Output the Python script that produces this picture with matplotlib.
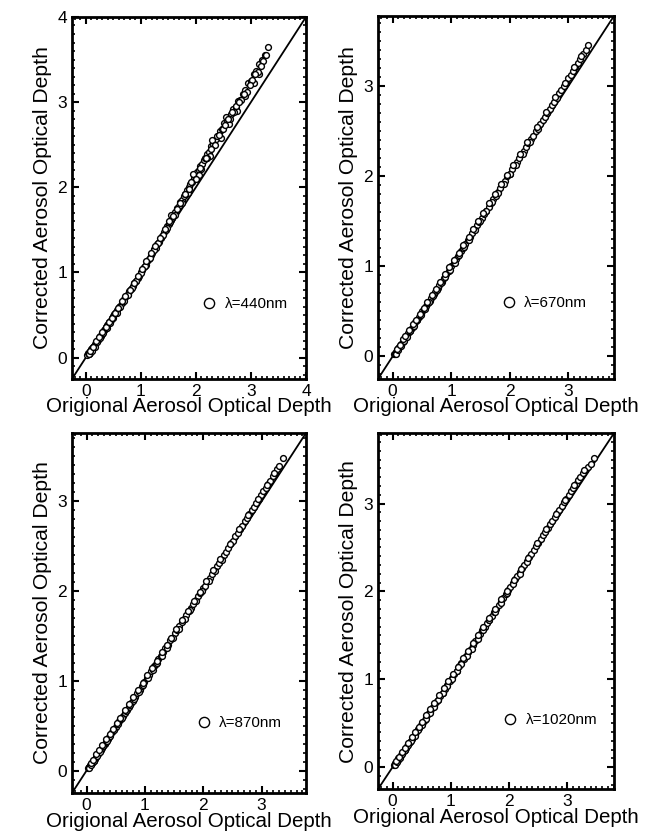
import matplotlib
matplotlib.use("Agg")
import matplotlib.pyplot as plt
from matplotlib.ticker import MultipleLocator

plt.rcParams['font.family'] = ['Liberation Sans', 'DejaVu Sans']

# 440 nm
x440 = [0.03, 0.04, 0.05, 0.06, 0.07, 0.08, 0.09, 0.10, 0.12, 0.13, 0.15, 0.17, 0.18, 0.20, 0.22,
        0.24, 0.25, 0.27, 0.29, 0.31, 0.33, 0.35, 0.37, 0.39, 0.41, 0.43, 0.45, 0.48, 0.50, 0.52,
        0.55, 0.57, 0.60, 0.62, 0.65, 0.68, 0.70, 0.73, 0.76, 0.79, 0.82, 0.85, 0.88, 0.91, 0.94,
        0.97, 1.00, 1.03, 1.06, 1.09, 1.12, 1.15, 1.18, 1.21, 1.24, 1.27, 1.30, 1.33, 1.36, 1.39,
        1.42, 1.45, 1.48, 1.51, 1.54, 1.57, 1.60, 1.63, 1.66, 1.69, 1.72, 1.75, 1.78, 1.81, 1.84,
        1.87, 1.90, 1.93, 1.96, 1.99, 2.02, 2.05, 2.08, 2.11, 2.14, 2.17, 2.20, 2.24, 2.28, 2.32,
        2.36, 2.40, 2.44, 2.48, 2.52, 2.56, 2.60, 2.64, 2.68, 2.72, 2.76, 2.80, 2.85, 2.90, 2.95,
        3.00, 3.05, 3.10, 3.15, 3.20, 3.25, 3.31,
        1.62, 1.85, 2.05, 2.25, 2.45, 2.60, 2.75, 2.90, 3.05, 3.15, 1.55, 1.95, 2.30, 2.55,
        0.06, 0.11, 0.16, 0.21, 0.26, 0.32, 0.38, 0.44, 0.50, 0.56, 0.63, 0.70, 0.77, 0.84, 0.92,
        1.00, 1.08, 1.16, 1.24, 1.32, 1.40, 1.47, 1.53, 1.59,
        2.00, 2.10, 2.20, 2.35, 2.50, 2.62, 2.70, 2.82, 2.92, 3.02, 3.12, 3.22, 3.28, 1.75, 1.88,
        2.38, 2.66, 2.98,
        0.08, 0.14, 0.19, 0.24, 0.30, 0.36, 0.42, 0.47, 0.53, 0.58, 0.66, 0.72, 0.80, 0.87, 0.95,
        1.02, 1.10, 1.19, 1.26, 1.35, 1.44, 1.52, 1.65, 1.72, 1.80, 1.92, 2.07, 2.18, 2.27, 2.42,
        2.53, 2.58, 2.73, 2.78, 2.88, 3.08, 3.18]
y440 = [0.03, 0.05, 0.04, 0.06, 0.06, 0.08, 0.08, 0.10, 0.11, 0.13, 0.14, 0.16, 0.18, 0.19, 0.21,
        0.23, 0.25, 0.26, 0.28, 0.30, 0.32, 0.34, 0.36, 0.38, 0.40, 0.42, 0.44, 0.47, 0.49, 0.51,
        0.54, 0.56, 0.59, 0.61, 0.64, 0.67, 0.69, 0.72, 0.75, 0.78, 0.81, 0.84, 0.88, 0.90, 0.94,
        0.96, 1.00, 1.03, 1.07, 1.09, 1.14, 1.16, 1.20, 1.23, 1.27, 1.29, 1.34, 1.36, 1.41, 1.43,
        1.48, 1.50, 1.55, 1.57, 1.62, 1.64, 1.69, 1.71, 1.76, 1.78, 1.83, 1.85, 1.90, 1.92, 1.97,
        2.00, 2.04, 2.06, 2.11, 2.13, 2.18, 2.20, 2.25, 2.27, 2.32, 2.34, 2.39, 2.42, 2.48, 2.51,
        2.57, 2.60, 2.66, 2.68, 2.75, 2.77, 2.83, 2.86, 2.92, 2.94, 3.01, 3.03, 3.10, 3.14, 3.22,
        3.25, 3.33, 3.37, 3.45, 3.49, 3.55, 3.65,
        1.67, 1.93, 2.15, 2.37, 2.58, 2.74, 2.90, 3.07, 3.22, 3.33, 1.67, 2.16, 2.55, 2.82,
        0.04, 0.08, 0.13, 0.18, 0.23, 0.29, 0.35, 0.41, 0.47, 0.53, 0.60, 0.67, 0.74, 0.82, 0.90,
        0.99, 1.08, 1.17, 1.26, 1.35, 1.44, 1.52, 1.59, 1.66,
        2.10, 2.22, 2.35, 2.50, 2.68, 2.80, 2.88, 3.02, 3.12, 3.26, 3.35, 3.48, 3.55, 1.82, 1.98,
        2.60, 2.89, 3.20,
        0.08, 0.13, 0.19, 0.24, 0.30, 0.36, 0.42, 0.47, 0.53, 0.58, 0.66, 0.72, 0.80, 0.88, 0.96,
        1.04, 1.13, 1.23, 1.31, 1.41, 1.51, 1.60, 1.75, 1.82, 1.92, 2.06, 2.23, 2.35, 2.45, 2.62,
        2.73, 2.80, 2.96, 3.00, 3.10, 3.33, 3.43]

# 670 nm
x670 = [0.03, 0.04, 0.05, 0.06, 0.07, 0.08, 0.10, 0.11, 0.13, 0.15, 0.17, 0.19, 0.21, 0.23, 0.25,
        0.27, 0.29, 0.32, 0.34, 0.37, 0.39, 0.42, 0.45, 0.48, 0.51, 0.54, 0.57, 0.60, 0.63, 0.66,
        0.70, 0.73, 0.77, 0.80, 0.84, 0.88, 0.92, 0.96, 1.00, 1.04, 1.08, 1.12, 1.16, 1.20, 1.24,
        1.28, 1.32, 1.36, 1.40, 1.44, 1.48, 1.52, 1.56, 1.60, 1.64, 1.68, 1.72, 1.76, 1.80, 1.84,
        1.88, 1.92, 1.96, 2.00, 2.04, 2.08, 2.12, 2.16, 2.20, 2.24, 2.28, 2.32, 2.36, 2.40, 2.44,
        2.48, 2.52, 2.56, 2.60, 2.64, 2.68, 2.72, 2.76, 2.80, 2.84, 2.88, 2.92, 2.96, 3.00, 3.04,
        3.08, 3.12, 3.16, 3.20, 3.25, 3.30, 3.34,
        0.05, 0.09, 0.14, 0.19, 0.24, 0.30, 0.36, 0.42, 0.48, 0.55, 0.62, 0.69, 0.76, 0.83, 0.90,
        0.98, 1.06, 1.14, 1.22, 1.30, 1.40, 1.50, 1.60, 1.70, 1.80, 1.90, 2.00, 2.10, 2.22, 2.34,
        0.07, 0.12, 0.18, 0.22, 0.28, 0.35, 0.40, 0.46, 0.53, 0.59, 0.67, 0.74, 0.81, 0.89, 0.97,
        1.05, 1.13, 1.21, 1.30, 1.38, 1.46, 1.55, 1.65, 1.75, 1.85, 1.95, 2.06, 2.18, 2.30, 2.46,
        2.62, 2.78, 2.94, 3.10, 3.22]
y670 = [0.03, 0.03, 0.05, 0.05, 0.07, 0.07, 0.09, 0.11, 0.12, 0.14, 0.16, 0.18, 0.20, 0.22, 0.24,
        0.26, 0.28, 0.31, 0.33, 0.36, 0.38, 0.41, 0.44, 0.47, 0.50, 0.53, 0.56, 0.59, 0.62, 0.65,
        0.69, 0.72, 0.76, 0.79, 0.83, 0.87, 0.92, 0.95, 1.00, 1.04, 1.08, 1.12, 1.17, 1.20, 1.25,
        1.29, 1.33, 1.37, 1.41, 1.46, 1.49, 1.54, 1.58, 1.62, 1.66, 1.70, 1.75, 1.78, 1.83, 1.87,
        1.91, 1.95, 2.00, 2.03, 2.08, 2.12, 2.16, 2.20, 2.25, 2.28, 2.33, 2.37, 2.41, 2.45, 2.50,
        2.53, 2.58, 2.62, 2.66, 2.70, 2.75, 2.79, 2.83, 2.87, 2.92, 2.96, 3.00, 3.04, 3.09, 3.13,
        3.17, 3.21, 3.26, 3.30, 3.36, 3.40, 3.46,
        0.03, 0.07, 0.12, 0.17, 0.22, 0.28, 0.34, 0.40, 0.46, 0.53, 0.60, 0.67, 0.74, 0.81, 0.88,
        0.96, 1.04, 1.13, 1.21, 1.29, 1.40, 1.50, 1.61, 1.71, 1.81, 1.92, 2.02, 2.13, 2.25, 2.38,
        0.08, 0.13, 0.19, 0.23, 0.29, 0.36, 0.41, 0.47, 0.54, 0.60, 0.68, 0.75, 0.83, 0.91, 0.99,
        1.07, 1.15, 1.24, 1.33, 1.41, 1.50, 1.59, 1.70, 1.80, 1.91, 2.01, 2.13, 2.25, 2.38, 2.55,
        2.71, 2.88, 3.04, 3.21, 3.34]

# 870 nm
x870 = [0.03, 0.04, 0.05, 0.06, 0.08, 0.09, 0.10, 0.12, 0.14, 0.16, 0.18, 0.20, 0.22, 0.24, 0.26,
        0.28, 0.31, 0.33, 0.36, 0.38, 0.41, 0.44, 0.47, 0.50, 0.53, 0.56, 0.59, 0.62, 0.65, 0.69,
        0.72, 0.76, 0.79, 0.83, 0.87, 0.91, 0.95, 0.99, 1.03, 1.07, 1.11, 1.15, 1.19, 1.23, 1.27,
        1.31, 1.35, 1.39, 1.43, 1.47, 1.51, 1.55, 1.59, 1.63, 1.67, 1.71, 1.75, 1.79, 1.83, 1.87,
        1.91, 1.95, 1.99, 2.03, 2.07, 2.11, 2.15, 2.19, 2.23, 2.27, 2.31, 2.35, 2.39, 2.43, 2.47,
        2.51, 2.55, 2.59, 2.63, 2.67, 2.71, 2.75, 2.79, 2.83, 2.87, 2.91, 2.95, 2.99, 3.03, 3.07,
        3.11, 3.15, 3.19, 3.23, 3.27, 3.30, 3.36,
        0.05, 0.08, 0.13, 0.18, 0.23, 0.29, 0.35, 0.41, 0.47, 0.54, 0.61, 0.68, 0.75, 0.82, 0.89,
        0.97, 1.05, 1.13, 1.21, 1.29, 1.38, 1.48, 1.58, 1.68, 1.78, 1.88, 1.98, 2.09, 2.20, 2.32,
        0.07, 0.11, 0.17, 0.22, 0.27, 0.34, 0.40, 0.45, 0.52, 0.58, 0.66, 0.73, 0.80, 0.88, 0.96,
        1.04, 1.12, 1.20, 1.29, 1.37, 1.45, 1.54, 1.64, 1.74, 1.84, 1.94, 2.05, 2.17, 2.29, 2.45,
        2.61, 2.77, 2.93, 3.09, 3.21]
y870 = [0.03, 0.04, 0.04, 0.06, 0.07, 0.09, 0.09, 0.11, 0.13, 0.15, 0.17, 0.19, 0.21, 0.23, 0.25,
        0.27, 0.30, 0.32, 0.35, 0.37, 0.40, 0.43, 0.46, 0.49, 0.52, 0.55, 0.58, 0.61, 0.64, 0.68,
        0.71, 0.75, 0.78, 0.82, 0.86, 0.90, 0.94, 0.99, 1.03, 1.07, 1.11, 1.16, 1.19, 1.24, 1.28,
        1.32, 1.36, 1.40, 1.45, 1.48, 1.53, 1.57, 1.61, 1.65, 1.69, 1.73, 1.78, 1.81, 1.86, 1.90,
        1.94, 1.98, 2.03, 2.06, 2.11, 2.15, 2.19, 2.23, 2.28, 2.31, 2.36, 2.40, 2.44, 2.48, 2.53,
        2.56, 2.61, 2.65, 2.69, 2.73, 2.78, 2.81, 2.86, 2.90, 2.94, 2.98, 3.03, 3.07, 3.11, 3.15,
        3.19, 3.23, 3.28, 3.32, 3.36, 3.39, 3.48,
        0.03, 0.06, 0.11, 0.16, 0.21, 0.27, 0.33, 0.39, 0.45, 0.52, 0.59, 0.66, 0.73, 0.80, 0.87,
        0.95, 1.03, 1.12, 1.20, 1.28, 1.37, 1.48, 1.58, 1.69, 1.79, 1.89, 2.00, 2.11, 2.22, 2.35,
        0.08, 0.12, 0.18, 0.23, 0.28, 0.35, 0.41, 0.46, 0.53, 0.59, 0.67, 0.74, 0.82, 0.90, 0.98,
        1.06, 1.14, 1.22, 1.32, 1.40, 1.48, 1.58, 1.68, 1.78, 1.89, 1.99, 2.11, 2.23, 2.36, 2.52,
        2.69, 2.85, 3.02, 3.18, 3.31]

# 1020 nm
x1020 = [0.03, 0.04, 0.05, 0.06, 0.07, 0.09, 0.10, 0.11, 0.13, 0.15, 0.17, 0.19, 0.21, 0.23, 0.25,
         0.28, 0.30, 0.33, 0.35, 0.38, 0.41, 0.44, 0.46, 0.49, 0.52, 0.55, 0.58, 0.61, 0.64, 0.68,
         0.71, 0.75, 0.78, 0.82, 0.86, 0.90, 0.94, 0.98, 1.02, 1.06, 1.10, 1.14, 1.18, 1.22, 1.26,
         1.30, 1.34, 1.38, 1.42, 1.46, 1.50, 1.54, 1.58, 1.62, 1.66, 1.70, 1.74, 1.78, 1.82, 1.86,
         1.90, 1.94, 1.98, 2.02, 2.06, 2.10, 2.14, 2.18, 2.22, 2.26, 2.30, 2.34, 2.38, 2.42, 2.46,
         2.50, 2.54, 2.58, 2.62, 2.66, 2.70, 2.74, 2.78, 2.82, 2.86, 2.90, 2.94, 2.98, 3.02, 3.06,
         3.10, 3.14, 3.18, 3.22, 3.26, 3.30, 3.35, 3.40, 3.45,
         0.05, 0.08, 0.12, 0.17, 0.22, 0.27, 0.32, 0.38, 0.44, 0.50, 0.57, 0.64, 0.71, 0.78, 0.86,
         0.94, 1.02, 1.10, 1.18, 1.27, 1.36, 1.46, 1.56, 1.66, 1.76, 1.86, 1.96, 2.07, 2.18, 2.30,
         0.06, 0.11, 0.16, 0.21, 0.27, 0.33, 0.39, 0.45, 0.51, 0.58, 0.65, 0.72, 0.80, 0.88, 0.96,
         1.04, 1.12, 1.21, 1.29, 1.38, 1.47, 1.56, 1.66, 1.76, 1.86, 1.96, 2.08, 2.20, 2.32, 2.48,
         2.64, 2.80, 2.96, 3.12, 3.28]
y1020 = [0.03, 0.04, 0.05, 0.05, 0.07, 0.08, 0.10, 0.10, 0.12, 0.14, 0.16, 0.18, 0.20, 0.22, 0.24,
         0.27, 0.29, 0.32, 0.34, 0.37, 0.40, 0.43, 0.45, 0.48, 0.51, 0.54, 0.57, 0.60, 0.63, 0.67,
         0.70, 0.74, 0.77, 0.81, 0.85, 0.89, 0.94, 0.98, 1.02, 1.06, 1.10, 1.15, 1.18, 1.23, 1.27,
         1.31, 1.35, 1.39, 1.44, 1.47, 1.52, 1.56, 1.60, 1.64, 1.68, 1.72, 1.77, 1.80, 1.85, 1.89,
         1.93, 1.97, 2.02, 2.05, 2.10, 2.14, 2.18, 2.22, 2.27, 2.30, 2.35, 2.39, 2.43, 2.47, 2.52,
         2.55, 2.60, 2.64, 2.68, 2.72, 2.77, 2.80, 2.85, 2.89, 2.93, 2.97, 3.02, 3.05, 3.10, 3.14,
         3.18, 3.22, 3.27, 3.30, 3.35, 3.38, 3.42, 3.45, 3.52,
         0.03, 0.06, 0.10, 0.15, 0.20, 0.25, 0.30, 0.36, 0.42, 0.48, 0.55, 0.62, 0.69, 0.76, 0.84,
         0.92, 1.00, 1.09, 1.17, 1.26, 1.35, 1.46, 1.56, 1.67, 1.77, 1.87, 1.98, 2.09, 2.20, 2.33,
         0.07, 0.12, 0.17, 0.22, 0.28, 0.34, 0.40, 0.46, 0.52, 0.59, 0.66, 0.73, 0.82, 0.90, 0.98,
         1.06, 1.14, 1.24, 1.32, 1.41, 1.50, 1.60, 1.70, 1.80, 1.91, 2.01, 2.13, 2.26, 2.38, 2.55,
         2.71, 2.88, 3.04, 3.21, 3.38]

panels = [
    (x440, y440, 'λ=440nm', [0.1116, 0.5467, 0.3628, 0.4330], 4.0, [0, 1, 2, 3, 4], (0.528, 0.207)),
    (x670, y670, 'λ=670nm', [0.5860, 0.5467, 0.3659, 0.4342], 3.78, [0, 1, 2, 3], (0.495, 0.209)),
    (x870, y870, 'λ=870nm', [0.1116, 0.0514, 0.3628, 0.4306], 3.76, [0, 1, 2, 3], (0.505, 0.194)),
    (x1020, y1020, 'λ=1020nm', [0.5860, 0.0560, 0.3659, 0.4258], 3.80, [0, 1, 2, 3], (0.503, 0.194)),
]

fig = plt.figure(figsize=(6.45, 8.36), dpi=100)

for xs, ys, lab, pos, top, ticks, legpos in panels:
    ax = fig.add_axes(pos)
    ax.plot([-0.25, top], [-0.25, top], color='black', lw=1.3, zorder=1)
    ax.plot(xs, ys, 'o', ms=4.2, mfc='white', mec='black', mew=1.0, ls='none', label=lab, zorder=2)
    ax.set_xlim(-0.25, top)
    ax.set_ylim(-0.25, top)
    ax.set_xticks(ticks)
    ax.set_yticks(ticks)
    ax.xaxis.set_minor_locator(MultipleLocator(0.1))
    ax.yaxis.set_minor_locator(MultipleLocator(0.1))
    ax.tick_params(which='both', direction='in', top=True, right=True, labelsize=12.5)
    ax.tick_params(which='major', length=5, width=1.5)
    ax.tick_params(which='minor', length=2.5, width=1.2)
    for s in ax.spines.values():
        s.set_linewidth(2.0)
    ax.set_xlabel('Origional Aerosol Optical Depth', fontsize=14.8, labelpad=-1)
    ax.set_ylabel('Corrected Aerosol Optical Depth', fontsize=15.2, labelpad=4)
    ax.legend(loc='center left', bbox_to_anchor=legpos, frameon=False, numpoints=1,
              markerscale=1.75, handlelength=0.8, handletextpad=0.6, borderpad=0,
              fontsize=11)

fig.savefig('out.png', dpi=100)
